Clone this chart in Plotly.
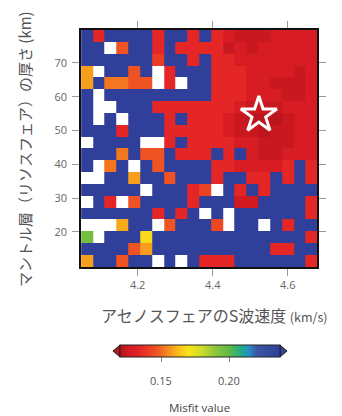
import plotly.graph_objects as go

# S-wave velocity of the asthenosphere (km/s), cell centres
vs_centers = [4.065, 4.096, 4.128, 4.159, 4.191, 4.222, 4.254, 4.285, 4.317, 4.348,
              4.380, 4.411, 4.443, 4.474, 4.506, 4.537, 4.569, 4.600, 4.632, 4.663]
# lithosphere thickness (km), cell centres, top row first
thick_centers = [77.95, 74.45, 70.95, 67.45, 63.95, 60.45, 56.95, 53.45, 49.95, 46.45,
                 42.95, 39.45, 35.95, 32.45, 28.95, 25.45, 21.95, 18.45, 14.95, 11.45]

# misfit values, rows from top (thickest) to bottom; None = no value (white)
misfit = [
    [.245, .134, .245, .245, .245, .245, .134, .245, .245, .134, .245, .134, .128, .124, .124, .124, .128, .128, .128, .128],
    [.245, .245, None, .146, .245, .245, .134, .245, .134, .134, .134, .134, .124, .128, .124, .128, .128, .128, .128, .128],
    [.245, .245, .245, .245, .245, .245, .140, .245, .245, .134, .245, .134, .134, .128, .128, .128, .128, .128, .128, .128],
    [.158, None, .245, .245, .146, .245, None, .134, .245, .245, .245, .134, .134, .134, .128, .128, .128, .128, .124, .128],
    [.158, .245, .152, .152, .146, .146, None, .134, None, .245, .245, .134, .134, .134, .128, .128, .124, .124, .124, .128],
    [.245, None, .245, .245, .245, .245, .245, .245, .245, .245, .245, .134, .134, .134, .128, .128, .128, .124, .124, .128],
    [.245, None, None, .245, .245, .245, .134, .134, .134, .134, .134, .134, .134, .128, .124, .124, .124, .128, .128, .128],
    [.245, None, .245, None, .245, .245, .245, .134, .245, .134, .134, .134, .128, .124, .121, .121, .121, .124, .128, .128],
    [.245, .245, .245, .134, .245, .245, .245, .134, .134, .134, .134, .134, .128, .124, .124, .121, .124, .124, .128, .128],
    [None, .245, .245, .245, .245, None, None, .134, .245, .134, .134, .134, .134, .128, .128, .124, .124, .124, .128, .128],
    [.245, .245, .245, .152, .245, .146, .146, .245, .134, .134, .134, .245, .134, .245, .128, .124, .124, .128, .128, .128],
    [.245, None, .152, .245, None, .245, .146, .245, .245, .245, .245, .134, .134, .128, .128, .128, .128, .134, .245, .134],
    [None, None, .245, .245, .158, .245, .245, .146, .245, .245, .245, .134, .245, .245, .134, .134, .245, .134, .245, .134],
    [.245, .245, .245, .245, .245, None, .245, .245, .245, .134, .142, None, .245, .134, .245, .134, .245, .245, .245, .245],
    [None, .245, .134, None, .146, .245, .245, .245, .245, .134, .245, .245, .245, .126, .126, .245, .245, .245, .245, .134],
    [.245, .245, .245, .245, .245, .245, .134, .245, .134, .245, None, .245, None, .245, .245, .245, .245, .245, .245, .134],
    [None, None, None, .160, .245, .245, None, .146, .245, .245, .245, .143, None, .245, .245, None, .245, .134, .245, .245],
    [.195, None, .245, .245, .245, .168, .245, .245, .245, .245, .245, .245, .245, .245, .245, .245, .245, .245, .245, .134],
    [.245, .245, .245, .245, .146, .158, .245, .245, .245, .245, .245, .245, .245, .245, .245, .245, .134, .134, .245, .245],
    [.158, .245, .245, .146, .245, .245, None, .245, None, .245, .134, .134, .134, .245, .245, .245, .245, .245, .245, .134],
]

best_vs = [4.523]
best_thick = [54.6]

cb_ticks = [0.15, 0.20]
cb_ticktext = ["0.15", "0.20"]
zmin, zmax = 0.12, 0.237

colorscale = [
    [0.000, "#b8141c"],
    [0.051, "#d11a22"],
    [0.103, "#e21f26"],
    [0.171, "#ea3a24"],
    [0.239, "#f05a23"],
    [0.308, "#f6921e"],
    [0.368, "#fbbf1a"],
    [0.427, "#f7e51a"],
    [0.513, "#cbdb2a"],
    [0.598, "#8cc63f"],
    [0.684, "#5cb947"],
    [0.760, "#1faa8a"],
    [0.805, "#2590c4"],
    [0.855, "#3a55a4"],
    [1.000, "#30409a"],
]

W, H = 342, 416
ML, MR, MT, MB = 81, 25, 30, 149
PW, PH = W - ML - MR, H - MT - MB
CB_LEFT, CB_LEN = 120, 160


def px(x):
    return (x - ML) / PW


def py(y):
    return (H - y - MB) / PH


def cb_x(v):
    return px(CB_LEFT + (v - zmin) / (zmax - zmin) * CB_LEN)


fig = go.Figure()
fig.add_trace(go.Heatmap(
    x=vs_centers, y=thick_centers, z=misfit,
    zmin=zmin, zmax=zmax, colorscale=colorscale, hoverongaps=False,
    colorbar=dict(
        orientation="h", x=px(CB_LEFT + CB_LEN / 2), xanchor="center", y=py(345), yanchor="top",
        ypad=0, xpad=0,
        lenmode="pixels", len=CB_LEN, thickness=12,
        outlinewidth=1, outlinecolor="#222",
        tickvals=cb_ticks, ticktext=cb_ticktext, ticks="outside", ticklen=5,
        tickcolor="#888", showticklabels=False,
    ),
))
fig.add_trace(go.Scatter(
    x=best_vs, y=best_thick, mode="markers",
    marker=dict(symbol="star-open", size=27, color="white", line=dict(width=3, color="white")),
    showlegend=False, hoverinfo="skip",
))

axis_common = dict(
    showgrid=False, zeroline=False, showline=True, linecolor="#111", linewidth=1.5,
    mirror="allticks", ticks="outside", ticklen=7, tickcolor="#999", tickwidth=1,
    tickfont=dict(size=11, color="#666", family="Open Sans"),
)
fig.update_xaxes(range=[4.049, 4.678], tickvals=[4.2, 4.4, 4.6], ticktext=["4.2", "4.4", "4.6"], **axis_common)
fig.update_yaxes(range=[9.65, 79.7], tickvals=[20, 30, 40, 50, 60, 70], ticklabelstandoff=3, **axis_common)

shapes = [
    dict(type="path", xref="paper", yref="paper",
         path=f"M {px(120)},{py(345)} L {px(113)},{py(351)} L {px(120)},{py(357)} Z",
         fillcolor="#b8141c", line=dict(color="#222", width=1)),
    dict(type="path", xref="paper", yref="paper",
         path=f"M {px(280)},{py(345)} L {px(287)},{py(351)} L {px(280)},{py(357)} Z",
         fillcolor="#30409a", line=dict(color="#222", width=1)),
]

annotations = [
    dict(text="アセノスフェアのS波速度 <span style='font-size:12.5px'>(km/s)</span>",
         xref="paper", yref="paper", x=px(214), y=py(315), xanchor="center", yanchor="middle",
         showarrow=False, font=dict(size=16, color="#555", family="Noto Sans CJK JP")),
    dict(text="マントル層（リソスフェア）の厚さ (km)",
         xref="paper", yref="paper", x=px(24), y=py(149), xanchor="center", yanchor="middle",
         textangle=-90, showarrow=False,
         font=dict(size=15, color="#555", family="Noto Sans CJK JP")),
    dict(text="Misfit value",
         xref="paper", yref="paper", x=px(199), y=py(407), xanchor="center", yanchor="middle",
         showarrow=False, font=dict(size=11.5, color="#444", family="Open Sans")),
]
for v, t in zip(cb_ticks, cb_ticktext):
    annotations.append(dict(
        text=t, xref="paper", yref="paper", x=cb_x(v), y=py(380),
        xanchor="center", yanchor="middle", showarrow=False,
        font=dict(size=11, color="#555", family="Open Sans")))

fig.update_layout(
    width=W, height=H, margin=dict(l=ML, r=MR, t=MT, b=MB, autoexpand=False),
    paper_bgcolor="white", plot_bgcolor="white",
    shapes=shapes, annotations=annotations, showlegend=False,
)

fig.write_html("out.html", config={"displayModeBar": False},
               post_script="document.body.style.margin='0';")
